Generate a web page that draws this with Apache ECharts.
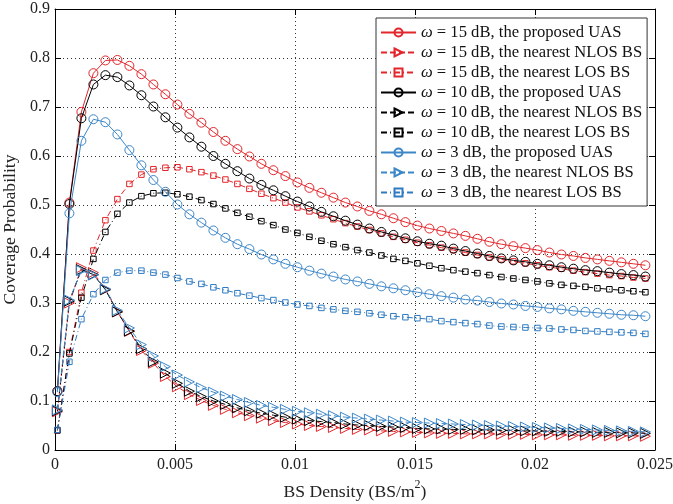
<!DOCTYPE html>
<html>
<head>
<meta charset="utf-8">
<script src="https://cdn.jsdelivr.net/npm/echarts@6/dist/echarts.min.js"></script>
<style>html,body{margin:0;padding:0;background:#fff}#c{width:673px;height:504px}</style>
</head>
<body>
<div id="c"></div>
<script>
const density = [0.0001,0.0006,0.0011,0.0016,0.0021,0.0026,0.0031,0.0036,0.0041,0.0046,
0.0051,0.0056,0.0061,0.0066,0.0071,0.0076,0.0081,0.0086,0.0091,0.0096,
0.0101,0.0106,0.0111,0.0116,0.0121,0.0126,0.0131,0.0136,0.0141,0.0146,
0.0151,0.0156,0.0161,0.0166,0.0171,0.0176,0.0181,0.0186,0.0191,0.0196,
0.0201,0.0206,0.0211,0.0216,0.0221,0.0226,0.0231,0.0236,0.0241,0.0246];

const uas15 = [0.120,0.505,0.690,0.769,0.795,0.796,0.784,0.767,0.746,0.726,
0.705,0.686,0.668,0.649,0.631,0.614,0.599,0.584,0.571,0.559,
0.546,0.535,0.525,0.515,0.505,0.497,0.488,0.481,0.473,0.465,
0.458,0.452,0.447,0.442,0.437,0.431,0.425,0.420,0.416,0.412,
0.408,0.403,0.399,0.396,0.392,0.389,0.386,0.383,0.380,0.377];
const nlos15 = [0.078,0.300,0.372,0.362,0.328,0.282,0.242,0.203,0.177,0.150,
0.129,0.113,0.101,0.091,0.083,0.076,0.070,0.065,0.060,0.056,
0.053,0.050,0.048,0.046,0.044,0.042,0.041,0.039,0.038,0.037,
0.036,0.035,0.034,0.034,0.033,0.033,0.033,0.032,0.032,0.032,
0.031,0.031,0.031,0.030,0.030,0.030,0.029,0.029,0.029,0.028];
const los15 = [0.040,0.200,0.321,0.407,0.469,0.512,0.543,0.562,0.573,0.576,
0.577,0.573,0.567,0.560,0.552,0.543,0.533,0.523,0.514,0.505,
0.495,0.487,0.479,0.471,0.463,0.456,0.449,0.442,0.435,0.429,
0.423,0.418,0.413,0.408,0.403,0.398,0.393,0.389,0.385,0.381,
0.377,0.373,0.370,0.366,0.363,0.360,0.357,0.355,0.352,0.350];

const uas10 = [0.120,0.502,0.677,0.746,0.765,0.761,0.744,0.724,0.701,0.679,
0.658,0.638,0.619,0.600,0.584,0.569,0.554,0.541,0.530,0.518,
0.507,0.497,0.486,0.477,0.468,0.460,0.452,0.445,0.439,0.432,
0.426,0.421,0.417,0.411,0.406,0.401,0.396,0.391,0.387,0.384,
0.380,0.377,0.373,0.370,0.367,0.365,0.362,0.359,0.357,0.354];
const nlos10 = [0.080,0.304,0.368,0.358,0.327,0.282,0.243,0.207,0.180,0.157,
0.136,0.120,0.109,0.100,0.093,0.086,0.080,0.075,0.071,0.067,
0.063,0.060,0.058,0.056,0.053,0.051,0.050,0.048,0.047,0.046,
0.044,0.043,0.043,0.042,0.042,0.041,0.041,0.040,0.040,0.039,
0.039,0.038,0.038,0.037,0.037,0.036,0.036,0.035,0.035,0.034];
const los10 = [0.040,0.197,0.311,0.390,0.445,0.482,0.505,0.518,0.524,0.525,
0.522,0.517,0.510,0.502,0.493,0.484,0.476,0.467,0.459,0.450,
0.443,0.435,0.427,0.420,0.414,0.408,0.403,0.397,0.390,0.386,
0.381,0.376,0.371,0.367,0.364,0.361,0.357,0.353,0.350,0.347,
0.344,0.340,0.337,0.335,0.333,0.330,0.328,0.326,0.324,0.322];

const uas3 = [0.118,0.483,0.631,0.675,0.669,0.644,0.612,0.581,0.551,0.527,
0.501,0.481,0.464,0.448,0.433,0.420,0.410,0.399,0.389,0.380,
0.373,0.366,0.360,0.354,0.348,0.344,0.339,0.334,0.330,0.326,
0.322,0.318,0.314,0.311,0.307,0.305,0.302,0.299,0.297,0.294,
0.292,0.289,0.287,0.284,0.282,0.280,0.278,0.276,0.275,0.273];
const nlos3 = [0.082,0.306,0.366,0.357,0.329,0.285,0.249,0.215,0.192,0.170,
0.153,0.139,0.127,0.118,0.110,0.103,0.097,0.091,0.087,0.083,
0.079,0.076,0.073,0.070,0.067,0.065,0.063,0.061,0.059,0.057,
0.056,0.055,0.054,0.053,0.052,0.051,0.050,0.049,0.048,0.047,
0.046,0.045,0.044,0.043,0.042,0.041,0.040,0.039,0.038,0.037];
const los3 = [0.041,0.180,0.267,0.318,0.347,0.362,0.366,0.366,0.362,0.358,
0.351,0.344,0.339,0.332,0.326,0.320,0.315,0.310,0.306,0.301,
0.297,0.294,0.290,0.287,0.284,0.282,0.279,0.276,0.273,0.271,
0.269,0.267,0.263,0.261,0.259,0.257,0.254,0.252,0.251,0.250,
0.249,0.248,0.246,0.245,0.243,0.242,0.241,0.240,0.239,0.237];

const xTicks = ['0','0.005','0.01','0.015','0.02','0.025'];
const yTicks = ['0','0.1','0.2','0.3','0.4','0.5','0.6','0.7','0.8','0.9'];

const seriesNames = [
 'ω = 15 dB, the proposed UAS','ω = 15 dB, the nearest NLOS BS','ω = 15 dB, the nearest LOS BS',
 'ω = 10 dB, the proposed UAS','ω = 10 dB, the nearest NLOS BS','ω = 10 dB, the nearest LOS BS',
 'ω = 3 dB, the proposed UAS','ω = 3 dB, the nearest NLOS BS','ω = 3 dB, the nearest LOS BS'];
const seriesData = [uas15,nlos15,los15,uas10,nlos10,los10,uas3,nlos3,los3];

const RED='#e3262b', BLACK='#000000', BLUE='#3d87c8', BLUE2='#2f7bc2';
const colors=[RED,RED,RED,BLACK,BLACK,BLACK,BLUE,BLUE,BLUE2];
const TRI='path://M0,0L10,5L0,10Z';
const kinds=['uas','nlos','los'];
const FONT='Liberation Serif';

const series = seriesData.map((d,i)=>{
  const kind=kinds[i%3];
  const c=colors[i];
  let symbol, size, ltype;
  if(kind==='uas'){symbol='circle';size=9;ltype='solid';}
  else if(kind==='nlos'){symbol=TRI;size=[10,10];ltype=[6,3];}
  else {symbol='rect';size=5.5;ltype=[6,3,1,3];}
  return {
    name: seriesNames[i], type:'line',
    data: d.map((v,k)=>[density[k],v]),
    symbol, symbolSize:size, showAllSymbol:true,
    lineStyle:{color:c,width:1,type:ltype},
    itemStyle:{color:'rgba(255,255,255,0)',borderColor:c,borderWidth:1},
    emphasis:{disabled:true}, animation:false, z: 2+i
  };
});

const gridLine={show:true,lineStyle:{color:'#333',width:1,type:[1,3]}};
const axisLab={fontFamily:FONT,fontSize:16,color:'#222'};

const option={
  backgroundColor:'#fff',
  animation:false,
  grid:{left:55,right:18,top:9,bottom:54,containLabel:false,outerBoundsMode:'none'},
  xAxis:[{
    type:'value',min:0,max:0.025,interval:0.005,position:'bottom',
    axisLine:{show:true,lineStyle:{color:'#000',width:1}},
    axisTick:{show:true,inside:true,length:6,lineStyle:{color:'#000'}},
    axisLabel:{...axisLab,margin:7,formatter:(v)=>xTicks[Math.round(v/0.005)]},
    splitLine:gridLine,
    name:'{a|BS Density (BS/m}{s|2}{a|)}',nameLocation:'middle',nameGap:29,
    nameTextStyle:{fontFamily:FONT,fontSize:17.6,color:'#222',
      rich:{a:{fontFamily:FONT,fontSize:17.6,color:'#222',lineHeight:22,verticalAlign:'bottom'},
            s:{fontFamily:FONT,fontSize:12,color:'#222',lineHeight:12,verticalAlign:'top'}}}
  },{
    type:'value',min:0,max:0.025,interval:0.005,position:'top',
    axisLine:{show:true,onZero:false,lineStyle:{color:'#000',width:1}},
    axisTick:{show:true,inside:true,length:6,lineStyle:{color:'#000'}},
    axisLabel:{show:false},splitLine:{show:false}
  }],
  yAxis:[{
    type:'value',min:0,max:0.9,interval:0.1,position:'left',
    axisLine:{show:true,lineStyle:{color:'#000',width:1}},
    axisTick:{show:true,inside:true,length:6,lineStyle:{color:'#000'}},
    axisLabel:{...axisLab,margin:5,formatter:(v)=>yTicks[Math.round(v/0.1)]},
    splitLine:gridLine,
    name:'Coverage Probability',nameLocation:'middle',nameGap:31,
    nameTextStyle:{fontFamily:FONT,fontSize:17.6,color:'#222'}
  },{
    type:'value',min:0,max:0.9,interval:0.1,position:'right',
    axisLine:{show:true,onZero:false,lineStyle:{color:'#000',width:1}},
    axisTick:{show:true,inside:true,length:6,lineStyle:{color:'#000'}},
    axisLabel:{show:false},splitLine:{show:false}
  }],
  legend:{
    orient:'vertical',left:376,top:18,
    padding:[6,5,5,4],
    itemWidth:35,itemHeight:10,itemGap:3,
    borderColor:'#333',borderWidth:1,backgroundColor:'#fff',
    selectedMode:false,
    data:seriesNames,
    formatter:(n)=>n.replace('ω','{i|ω}'),
    textStyle:{fontFamily:FONT,fontSize:16.6,color:'#111',lineHeight:14.8,
      rich:{i:{fontStyle:'italic',fontFamily:FONT,fontSize:16.6,lineHeight:14.8}}}
  },
  series
};
const chart=echarts.init(document.getElementById('c'),null,{renderer:'canvas'});
chart.setOption(option);
</script>
</body>
</html>
